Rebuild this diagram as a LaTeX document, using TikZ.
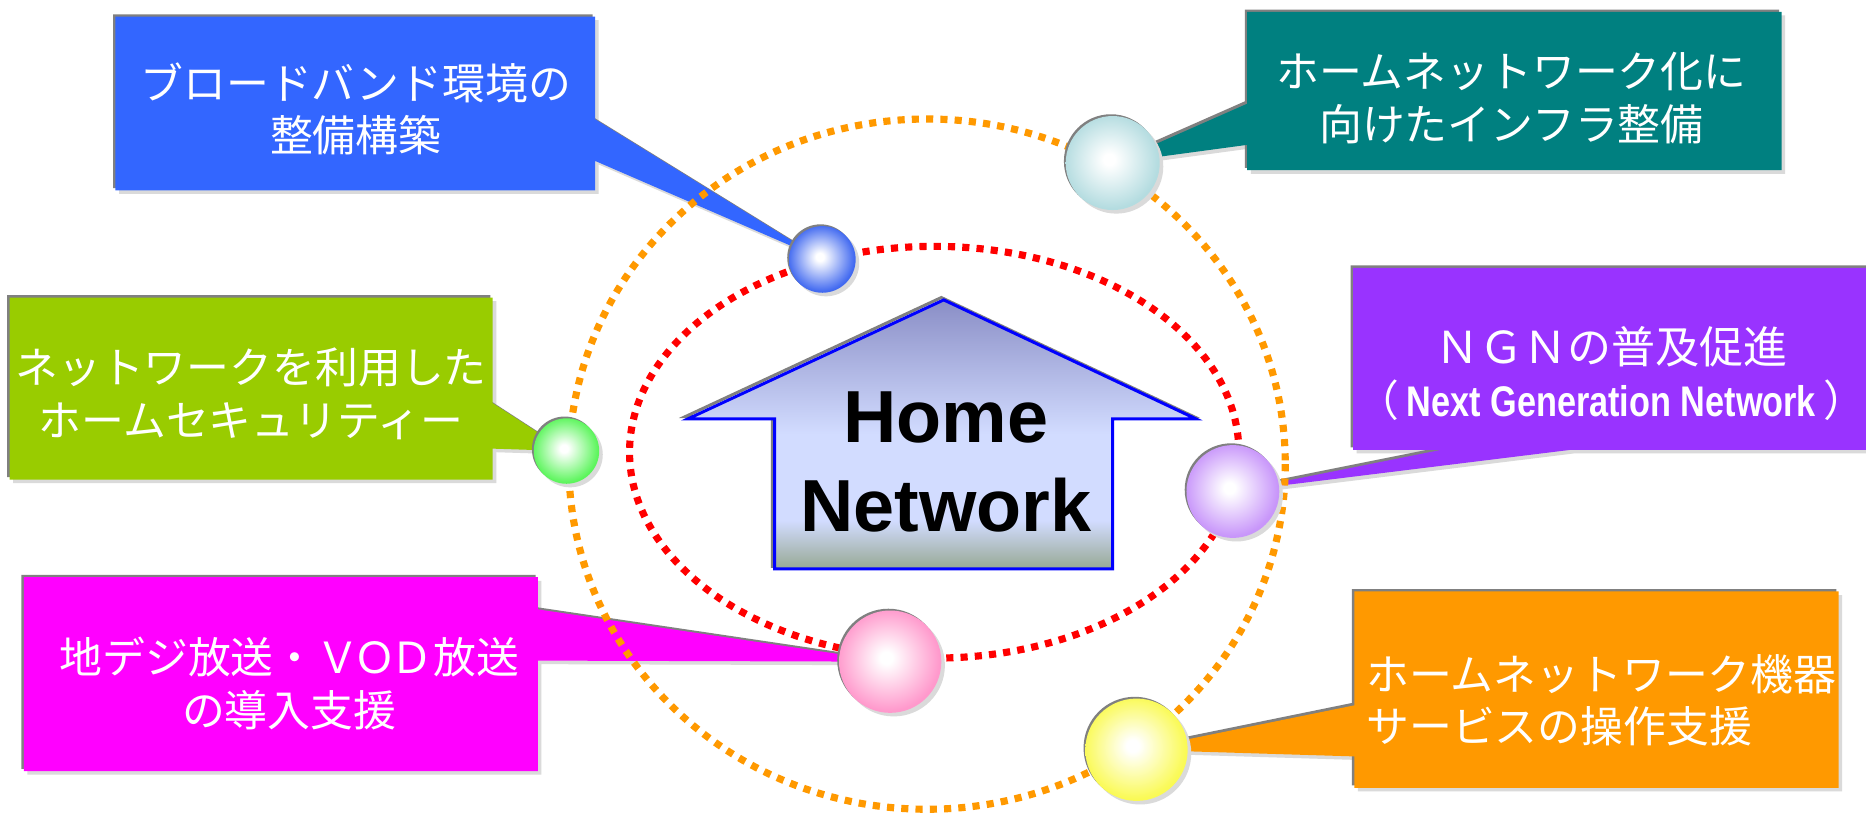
\documentclass[tikz,border=0pt]{standalone}
\usepackage{fontspec}
\usepackage{graphicx}
\setmainfont{Liberation Sans}
\newfontfamily\cjk{Noto Sans CJK JP}
\usetikzlibrary{calc,shadows}
\definecolor{cblue}{HTML}{3366FF}
\definecolor{cteal}{HTML}{008080}
\definecolor{cpurple}{HTML}{9933FF}
\definecolor{cgreen}{HTML}{99CC00}
\definecolor{cmag}{HTML}{FF00FF}
\definecolor{corange}{HTML}{FF9900}
\definecolor{rimgray}{HTML}{808080}
\definecolor{shgray}{HTML}{DADADA}
\definecolor{dotred}{HTML}{FF0000}
\definecolor{dotorange}{HTML}{FF9900}
\definecolor{sblue}{HTML}{4169F0}
\definecolor{steal}{HTML}{B4DCE0}
\definecolor{spurple}{HTML}{C896FA}
\definecolor{sgreen}{HTML}{5CF55C}
\definecolor{spink}{HTML}{FF99CC}
\definecolor{syellow}{HTML}{FAFA55}
\definecolor{htop}{HTML}{8A8EC6}
\definecolor{hlight}{HTML}{D2DCFF}
\definecolor{hbot}{HTML}{97A894}
\pgfdeclarelayer{back}
\pgfdeclarelayer{mid}
\pgfsetlayers{back,mid,main}
\pgfdeclareverticalshading{houseshade}{100bp}{color(0bp)=(hbot); color(25bp)=(hbot); color(34bp)=(hlight); color(50bp)=(hlight); color(75bp)=(htop); color(100bp)=(htop)}
\newcommand\mksph[2]{\pgfdeclareradialshading{#1}{\pgfpoint{-2bp}{2bp}}{color(0bp)=(white); color(3bp)=(white); color(25bp)=(#2); color(50bp)=(#2)}}
\mksph{sphblue}{sblue}
\mksph{sphteal}{steal}
\mksph{sphpurple}{spurple}
\mksph{sphgreen}{sgreen}
\mksph{sphpink}{spink}
\mksph{sphyellow}{syellow}
\newcommand\mycallout[5]{%
 \begin{pgfonlayer}{back}
 \fill[shgray, transform canvas={xshift=3pt,yshift=-3pt}] (#1.north west) rectangle (#1.south east) (#3) -- (#5) -- (#4) -- cycle;
 \fill[rimgray, transform canvas={xshift=-2pt,yshift=2pt}] (#1.north west) rectangle (#1.south east) (#3) -- (#5) -- (#4) -- cycle;
 \fill[#2] (#1.north west) rectangle (#1.south east) (#3) -- (#5) -- (#4) -- cycle;
 \end{pgfonlayer}}
\begin{document}
\begin{tikzpicture}[x=1pt,y=-1pt,
  frame/.style={inner sep=0, outer sep=0},
  jtext/.style={text=white, font=\cjk\fontsize{36}{44}\selectfont, align=center, inner sep=0},
  sph/.style={circle, inner sep=0, outer sep=0, minimum size=#1,
    general shadow={fill=shgray, shadow xshift=3pt, shadow yshift=-3pt},
    general shadow={fill=rimgray, shadow xshift=-1.5pt, shadow yshift=1.5pt}},
  dotline/.style={line width=6pt, dash pattern=on 6pt off 6pt}]
\useasboundingbox (0,0) rectangle (1568,686);
\begin{pgfonlayer}{back}
\fill[white] (0,0) rectangle (1568,686);
\end{pgfonlayer}

% spheres
\node[sph=56, shade, shading=sphblue] (s1) at (691,218) {};
\node[sph=79, shade, shading=sphteal] (s2) at (935,137) {};
\node[sph=78, shade, shading=sphpurple] (s3) at (1036,413) {};
\node[sph=55, shade, shading=sphgreen] (s4) at (476,379) {};
\node[sph=86, shade, shading=sphpink] (s5) at (748,556) {};
\node[sph=86, shade, shading=sphyellow] (s6) at (955,630) {};

% boxes (frames)
\node[frame, minimum width=403, minimum height=146] (b1) at (298.5,87) {};
\node[frame, minimum width=449, minimum height=133] (b2) at (1272.5,76.5) {};
\node[frame, minimum width=435, minimum height=153] (b3) at (1354.5,301.5) {};
\node[frame, minimum width=406, minimum height=153] (b4) at (211,326.5) {};
\node[frame, minimum width=432, minimum height=163] (b5) at (236,566.5) {};
\node[frame, minimum width=407, minimum height=165] (b6) at (1341.5,579.5) {};

% callout fills with tails
\mycallout{b1}{cblue}{$(b1.north east)!0.59!(b1.south east)$}{$(b1.north east)!0.83!(b1.south east)$}{s1.center}
\mycallout{b2}{cteal}{$(b2.north west)!0.58!(b2.south west)$}{$(b2.north west)!0.84!(b2.south west)$}{s2.center}
\mycallout{b3}{cpurple}{$(b3.south west)!0.17!(b3.south east)$}{$(b3.south west)!0.42!(b3.south east)$}{s3.center}
\mycallout{b4}{cgreen}{$(b4.north east)!0.58!(b4.south east)$}{$(b4.north east)!0.83!(b4.south east)$}{s4.center}
\mycallout{b5}{cmag}{$(b5.north east)!0.166!(b5.south east)$}{$(b5.north east)!0.43!(b5.south east)$}{s5.center}
\mycallout{b6}{corange}{$(b6.north west)!0.58!(b6.south west)$}{$(b6.north west)!0.84!(b6.south west)$}{s6.center}

% texts
\node[jtext] (t1) at (299,91.5) {ブロードバンド環境の\\整備構築};
\node[jtext] (t2) at (1270,82.5) {ホームネットワーク化に\\向けたインフラ整備};
\node[jtext] (t3) at (1354,314) {{\fontsize{37}{44}\selectfont ＮＧＮの普及促進}\\（\hspace{6pt}\scalebox{0.8}[1]{\fontsize{36}{44}\selectfont\rmfamily\bfseries Next Generation Network}\hspace{6pt}）};
\node[jtext] (t4) at (211,331) {ネットワークを利用した\\ホームセキュリティー};
\node[jtext] (t5) at (243,574.5) {地デジ放送・Ｖ\kern-5ptＯ\kern-5ptＤ放送\\の導入支援};
\node[jtext, align=left, anchor=west] (t6) at (1148,588.5) {ホームネットワーク機器\\サービスの操作支援};

% orbits and house
\begin{pgfonlayer}{mid}
\draw[dotline, dotorange] (779,390) ellipse [x radius=301, y radius=290];
\draw[dotline, dotred] (785,380) ellipse [x radius=256, y radius=173];
\draw[rimgray, line width=2.5pt, transform canvas={xshift=-2pt,yshift=2pt}]
  (793,252) -- (1005,352) -- (935,352) -- (935,478) -- (651,478) -- (651,352) -- (578,352) -- cycle;
\shadedraw[shading=houseshade, draw=blue, line width=2.5pt]
  (793,252) -- (1005,352) -- (935,352) -- (935,478) -- (651,478) -- (651,352) -- (578,352) -- cycle;
\end{pgfonlayer}
\node[font=\fontsize{62}{75}\selectfont\bfseries, align=center, inner sep=0] (hn) at (795,388) {Home\\Network};
\end{tikzpicture}
\end{document}
